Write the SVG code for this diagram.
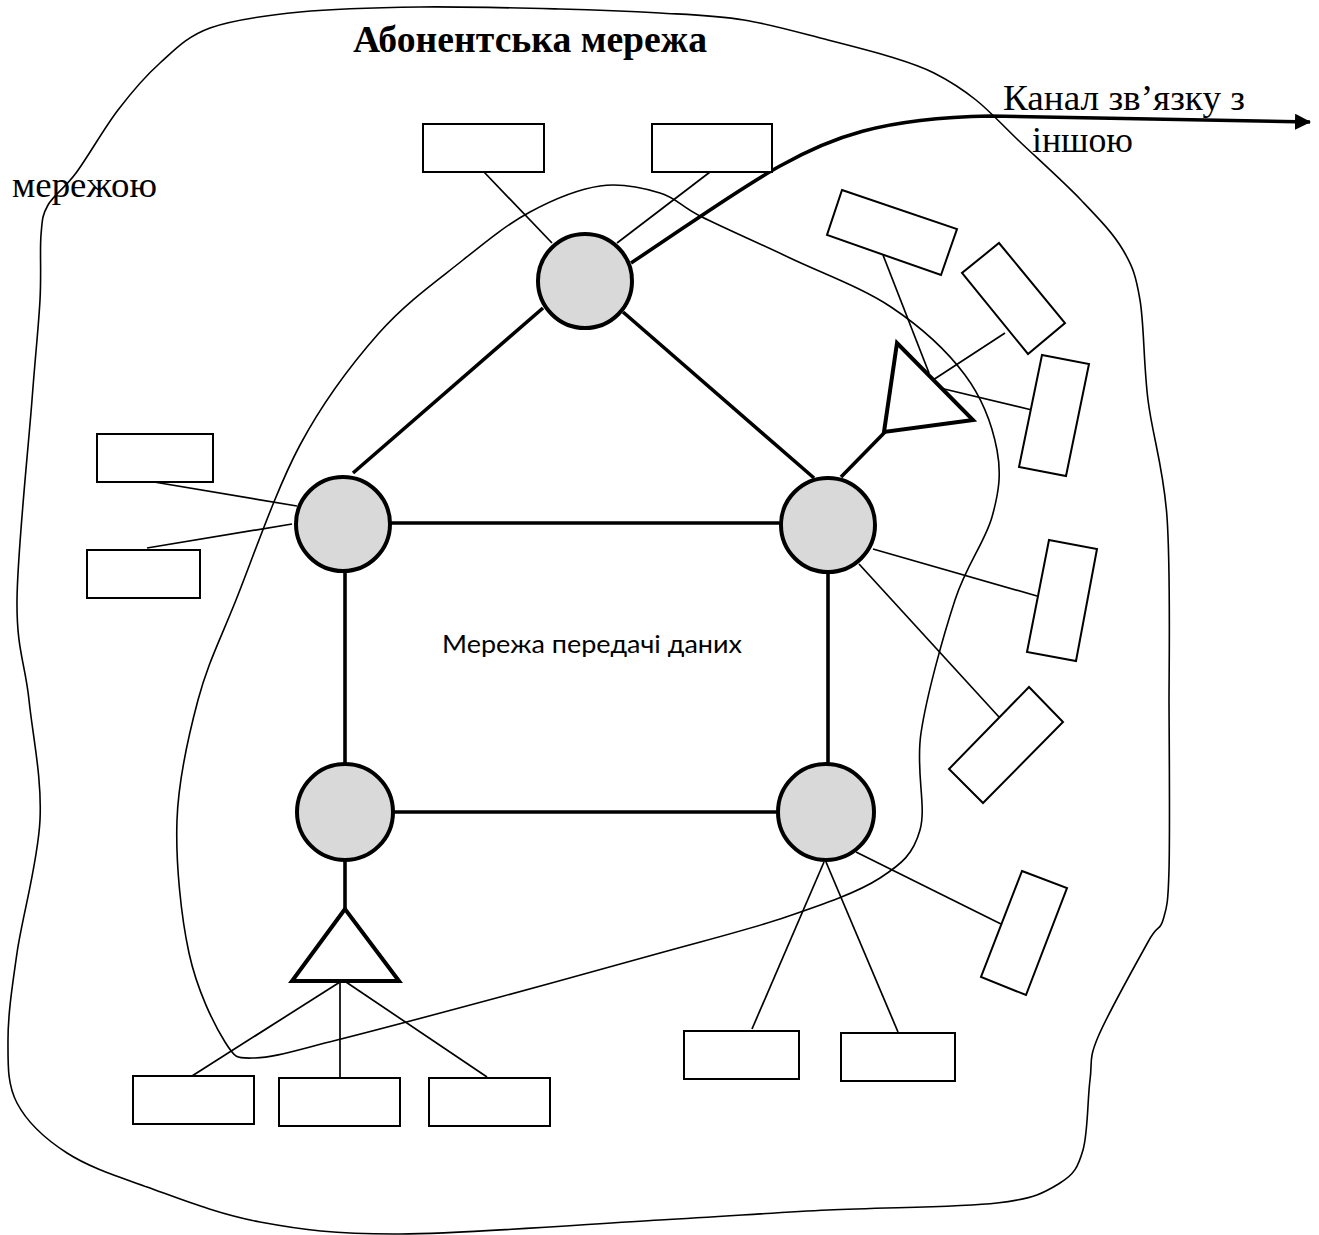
<svg xmlns="http://www.w3.org/2000/svg" width="1319" height="1235" viewBox="0 0 1319 1235">
  <style>
    .boundary { fill: none; stroke: #000; stroke-width: 1.6; }
    .trunk { fill: none; stroke: #000; stroke-width: 3.6; stroke-linecap: butt; }
    .tap { fill: none; stroke: #000; stroke-width: 1.7; }
    .switch { fill: #d9d9d9; stroke: #000; stroke-width: 4; }
    .hub { fill: #fff; stroke: #000; stroke-width: 4; stroke-linejoin: miter; }
    .host { fill: #fff; stroke: #000; stroke-width: 2; }
    .serif { font-family: "Liberation Serif", "Times New Roman", serif; fill: #000; }
    .sans { font-family: Lato, "Noto Sans", "Liberation Sans", sans-serif; fill: #000; }
  </style>
  <defs>
    <marker id="arrow" markerUnits="userSpaceOnUse" markerWidth="18" markerHeight="18" refX="15" refY="8" orient="auto">
      <path d="M0,0 L16,8 L0,16 Z" fill="#000"/>
    </marker>
  </defs>

  <rect width="1319" height="1235" fill="#fff"/>

  <!-- outer boundary: subscriber network -->
  <path id="subscriber-area" class="boundary" d="M 300,12 C 335,8.5 376.7,7.5 420,7 C 463.3,6.5 520,8 560,9 C 600,10 629.3,11.2 660,13 C 690.7,14.8 716,15.5 744,20 C 772,24.5 803.5,33.8 828,40 C 852.5,46.2 873.3,51.5 891,57 C 908.7,62.5 919.8,65.8 934,73 C 948.2,80.2 962,88.8 976,100 C 990,111.2 1000.5,123.3 1018,140 C 1035.5,156.7 1063.5,181.7 1081,200 C 1098.5,218.3 1113.2,233.3 1123,250 C 1132.8,266.7 1135.8,275 1140,300 C 1144.2,325 1143.5,363.8 1148,400 C 1152.5,436.2 1163.5,467 1167,517 C 1170.5,567 1169.3,639.5 1169,700 C 1169.3,758.8 1170,833.3 1169,870 C 1168,906.7 1166.5,908 1163,920 C 1159.5,932 1158.8,922.5 1148,942 C 1137.2,961.5 1107.7,1014 1098,1037 C 1088.3,1060 1092.5,1061.2 1090,1080 C 1087.5,1098.8 1088,1132.8 1083,1150 C 1078,1167.2 1074.3,1174.2 1060,1183 C 1045.7,1191.8 1035.7,1198.5 997,1203 C 958.3,1207.5 884.2,1207.2 828,1210 C 771.8,1212.8 731.3,1216 660,1220 C 588.7,1224 466.7,1233.7 400,1234 C 333.3,1234.3 302.2,1229.8 260,1222 C 217.8,1214.2 179.2,1198.5 147,1187 C 114.8,1175.5 88.7,1167 67,1153 C 45.3,1139 26.8,1121.8 17,1103 C 7.2,1084.2 8,1065 8,1040 C 8,1015 11.7,989.7 17,953 C 22.3,916.3 38,862.2 40,820 C 42,777.8 32.8,736.7 29,700 C 25.2,663.3 16.5,650 17,600 C 17.5,550 28.2,450 32,400 C 35.8,350 38.5,327.5 40,300 C 41.5,272.5 39.7,250.8 41,235 C 42.3,219.2 42.2,215.3 48,205 C 53.8,194.7 64.3,188.8 76,173 C 87.7,157.2 104,128.3 118,110 C 132,91.7 144.7,76.7 160,63 C 175.3,49.3 186.7,36.5 210,28 C 233.3,19.5 265,15.5 300,12 Z"/>

  <!-- inner boundary: data transmission network -->
  <path id="data-network-area" class="boundary" d="M 660,193 C 643,187.8 621.7,182.8 600,186 C 578.3,189.2 552.8,199.7 530,212 C 507.2,224.3 488.2,239.8 463,260 C 437.8,280.2 406.2,302.2 379,333 C 351.8,363.8 323.8,400.5 300,445 C 276.2,489.5 253,557.5 236,600 C 219,642.5 207.8,663.3 198,700 C 188.2,736.7 178.5,777.8 177,820 C 175.5,862.2 181,916 189,953 C 197,990 214,1024.5 225,1042 C 236,1059.5 236.3,1058.3 255,1058 C 273.7,1057.7 296.2,1050.2 337,1040 C 377.8,1029.8 446.2,1011.5 500,997 C 553.8,982.5 612.3,966.3 660,953 C 707.7,939.7 749.3,929.5 786,917 C 822.7,904.5 857.7,892.5 880,878 C 902.3,863.5 913.2,854.2 920,830 C 926.8,805.8 915.2,771.3 921,733 C 926.8,694.7 943.2,636 955,600 C 966.8,564 985,542 992,517 C 999,492 1001.5,473.7 997,450 C 992.5,426.3 982.7,398.8 965,375 C 947.3,351.2 920.2,326.5 891,307 C 861.8,287.5 821.5,273 790,258 C 758.5,243 723.7,227.8 702,217 C 680.3,206.2 677,198.2 660,193 Z"/>

  <!-- labels -->
  <text class="serif" x="353" y="52" font-size="37" font-weight="bold" textLength="354" lengthAdjust="spacingAndGlyphs">Абонентська мережа</text>
  <text class="serif" x="1003" y="110" font-size="35" textLength="242" lengthAdjust="spacingAndGlyphs">Канал зв’язку з</text>
  <text class="serif" x="1032" y="152" font-size="35" textLength="101" lengthAdjust="spacingAndGlyphs">іншою</text>
  <text class="serif" x="12" y="197" font-size="35" textLength="145" lengthAdjust="spacingAndGlyphs">мережою</text>
  <text class="sans" x="442" y="653" font-size="25" textLength="300" lengthAdjust="spacingAndGlyphs">Мережа передачі даних</text>

  <!-- connectors -->
  <g id="connectors">
    <!-- backbone links -->
    <line class="trunk" x1="543" y1="308" x2="353" y2="473"/>
    <line class="trunk" x1="623" y1="312" x2="814" y2="478"/>
    <line class="trunk" x1="391" y1="523" x2="780" y2="523"/>
    <line class="trunk" x1="345" y1="572" x2="345" y2="764"/>
    <line class="trunk" x1="828" y1="572" x2="828" y2="764"/>
    <line class="trunk" x1="393" y1="812" x2="778" y2="812"/>
    <line class="trunk" x1="345" y1="861" x2="345" y2="909"/>
    <line class="trunk" x1="841" y1="477" x2="885" y2="432"/>
    <!-- outgoing channel -->
    <path class="trunk" d="M 631,263 C 690,224 740,188 780,166 C 830,138 880,118 990,116 L 1310,122" marker-end="url(#arrow)"/>
    <!-- host taps -->
    <line class="tap" x1="484" y1="172" x2="552" y2="243"/>
    <line class="tap" x1="710" y1="172" x2="617" y2="243"/>
    <line class="tap" x1="154" y1="482" x2="297" y2="506"/>
    <line class="tap" x1="147" y1="548" x2="292" y2="524"/>
    <line class="tap" x1="340" y1="982" x2="192" y2="1076"/>
    <line class="tap" x1="340" y1="982" x2="340" y2="1077"/>
    <line class="tap" x1="346" y1="982" x2="487" y2="1077"/>
    <line class="tap" x1="824" y1="862" x2="752" y2="1029"/>
    <line class="tap" x1="826" y1="862" x2="898" y2="1032"/>
    <line class="tap" x1="856" y1="852" x2="1001" y2="924"/>
    <line class="tap" x1="873" y1="549" x2="1037" y2="596"/>
    <line class="tap" x1="859" y1="564" x2="999" y2="717"/>
    <line class="tap" x1="883" y1="255" x2="929" y2="373"/>
    <line class="tap" x1="1005" y1="333" x2="933" y2="380"/>
    <line class="tap" x1="1032" y1="410" x2="940" y2="388"/>
  </g>

  <!-- switching nodes -->
  <g id="node-top"><circle class="switch" cx="585" cy="281" r="47"/></g>
  <g id="node-left"><circle class="switch" cx="343" cy="524" r="47"/></g>
  <g id="node-right"><circle class="switch" cx="828" cy="525" r="47"/></g>
  <g id="node-bottom-left"><circle class="switch" cx="345" cy="812" r="48"/></g>
  <g id="node-bottom-right"><circle class="switch" cx="826" cy="812" r="48"/></g>

  <!-- concentrators -->
  <g id="hub-bottom"><polygon class="hub" points="345,909 292,981 399,981"/></g>
  <g id="hub-right"><polygon class="hub" points="897,343 884,432 973,420"/></g>

  <!-- subscriber hosts -->
  <g id="host-1"><rect class="host" x="423" y="124" width="121" height="48"/></g>
  <g id="host-2"><rect class="host" x="652" y="124" width="120" height="48"/></g>
  <g id="host-3"><rect class="host" x="97" y="434" width="116" height="48"/></g>
  <g id="host-4"><rect class="host" x="87" y="550" width="113" height="48"/></g>
  <g id="host-5"><rect class="host" x="133" y="1076" width="121" height="48"/></g>
  <g id="host-6"><rect class="host" x="279" y="1078" width="121" height="48"/></g>
  <g id="host-7"><rect class="host" x="429" y="1078" width="121" height="48"/></g>
  <g id="host-8"><rect class="host" x="684" y="1031" width="115" height="48"/></g>
  <g id="host-9"><rect class="host" x="841" y="1033" width="114" height="48"/></g>
  <g id="host-10"><polygon class="host" points="1022,871 1067,888 1026,995 981,977"/></g>
  <g id="host-11"><polygon class="host" points="1049,540 1097,549 1076,661 1027,652"/></g>
  <g id="host-12"><polygon class="host" points="1029,687 1063,722 983,803 949,769"/></g>
  <g id="host-13"><polygon class="host" points="842,190 957,229 941,275 827,235"/></g>
  <g id="host-14"><polygon class="host" points="999,243 1065,323 1028,354 962,273"/></g>
  <g id="host-15"><polygon class="host" points="1042,355 1089,364 1066,476 1019,467"/></g>
</svg>
